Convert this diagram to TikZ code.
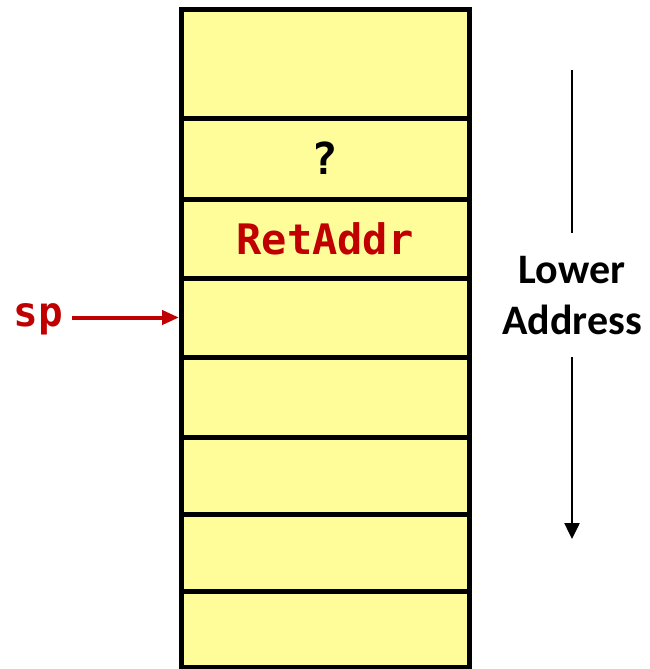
\documentclass[tikz,border=0pt]{standalone}
\usepackage{fontspec}
\newfontfamily\monofnt{DejaVu Sans Mono}
\newfontfamily\calfnt{Carlito}
\usetikzlibrary{arrows.meta}
\definecolor{cellyellow}{HTML}{FFFD99}
\definecolor{darkred}{HTML}{C00000}
\tikzset{
  cell/.style={draw=black, line width=5pt, fill=cellyellow, minimum width=288pt, inner sep=0pt, outer sep=0pt},
  redtxt/.style={text=darkred, font=\monofnt\bfseries\fontsize{42}{50}\selectfont},
  lbl/.style={font=\calfnt\bfseries\fontsize{42}{51}\selectfont, align=center, inner sep=0pt},
}
\begin{document}
\begin{tikzpicture}[x=1pt,y=-1pt]
\useasboundingbox (0,0) rectangle (649,669);
\node[cell, minimum height=108pt] (r1) at (325,64) {};
\node[cell, minimum height=81pt] (r2) at (325,158.5) {\monofnt\bfseries\fontsize{44}{50}\selectfont ?};
\node[cell, minimum height=79pt, redtxt] (r3) at (325,238.5) {RetAddr};
\node[cell, minimum height=79pt] (r4) at (325,317.5) {};
\node[cell, minimum height=80pt] (r5) at (325,397) {};
\node[cell, minimum height=77pt] (r6) at (325,475.5) {};
\node[cell, minimum height=77pt] (r7) at (325,552.5) {};
\node[cell, minimum height=76pt] (r8) at (325,629) {};
% sp pointer
\node[text=darkred, font=\monofnt\bfseries\fontsize{41}{48}\selectfont, anchor=east, inner sep=0pt] (sp) at (63,319) {sp};
\coordinate (spend) at ([xshift=-2pt]r4.west);
\draw[darkred, line width=4pt, -{Triangle[length=17pt,width=14pt]}, shorten <=9pt] (sp.east |- spend) -- (spend);
% lower address
\node[lbl] (la) at (572,296) {Lower\\Address};
\coordinate (t0) at (572,70);
\coordinate (t1) at (572,233);
\coordinate (b0) at (572,357);
\coordinate (b1) at (572,539);
\draw[line width=2.5pt] (t0) -- (t1);
\draw[line width=2.5pt, -{Triangle[length=16pt,width=15pt]}] (b0) -- (b1);
\end{tikzpicture}
\end{document}
